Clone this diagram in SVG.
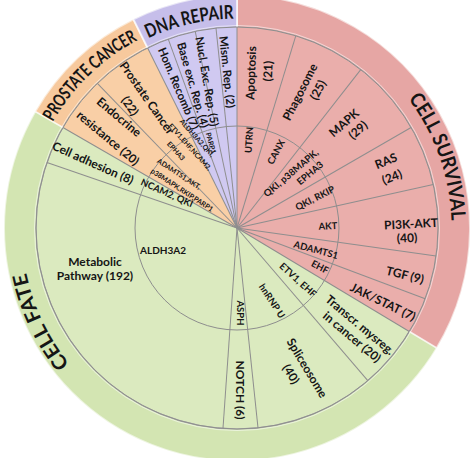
<svg xmlns="http://www.w3.org/2000/svg" width="472" height="458" viewBox="0 0 472 458">
<style>
text{font-family:Lato,"Liberation Sans",sans-serif;font-weight:700;fill:#151515;text-anchor:middle}
.pw{font-size:12px}
.dn{font-size:11.5px}
.gn{font-size:9.5px}
.sm{font-size:7px}
.band{font-size:20px}
.ln{stroke:#8e8e8e;stroke-width:1;fill:none}
.hl{stroke:#ffffff;stroke-opacity:.55;stroke-width:1;fill:none}
.bandsec{stroke:#ffffff;stroke-opacity:.6;stroke-width:2}
</style>
<defs>
<path id="arcSurv" d="M312.12,27.08 A214.5,214.5 0 0 1 421.82,336.87"/>
<path id="arcFate" d="M183.04,436.64 A215.5,215.5 0 0 1 40.89,138.63"/>
<path id="arcPros" d="M25.02,242.82 A212.5,212.5 0 0 1 259.21,16.66"/>
<path id="arcDna" d="M50.38,132.9 A209.5,209.5 0 0 1 363.08,60.81"/>
</defs>
<rect width="472" height="458" fill="#ffffff"/>
<g id="bands">
<circle cx="237" cy="228" r="233" fill="#d3e5b2" class="bandsec"/>
<path d="M237,228 L237,-5 A233,233 0 0 1 436.72,348 Z" fill="#e6a6a4" class="bandsec"/>
<path d="M237,228 L35.22,111.5 A233,233 0 0 1 133.4,19.3 Z" fill="#f7c99d" class="bandsec"/>
<path d="M237,228 L133.4,19.3 A233,233 0 0 1 237,-5 Z" fill="#c6beea" class="bandsec"/>
</g>
<g id="rings">
<circle cx="237" cy="228" r="201" fill="#dbeabf" stroke="#a8a8a8" stroke-width="1.2"/>
<path d="M237,228 L237,27 A201,201 0 0 1 409.29,331.52 Z" fill="#eaaeab"/>
<path d="M237,228 L62.93,127.5 A201,201 0 0 1 147.63,47.96 Z" fill="#f9cfa6"/>
<path d="M237,228 L147.63,47.96 A201,201 0 0 1 237,27 Z" fill="#d0c9f1"/>
<circle cx="237" cy="228" r="202.5" class="hl"/>
<circle cx="237" cy="228" r="201" class="ln"/>
<circle cx="237" cy="228" r="102" class="ln"/>
</g>
<g id="connectors" transform="translate(237 228)">
<g class="hl">
<line x1="0" y1="-201" x2="0" y2="-233" transform="rotate(0)"/>
<line x1="0" y1="-201" x2="0" y2="-233" transform="rotate(121)"/>
<line x1="0" y1="-201" x2="0" y2="-233" transform="rotate(300)"/>
<line x1="0" y1="-201" x2="0" y2="-233" transform="rotate(333.6)"/>
</g>
<g class="ln">
<line x2="0" y2="-201" transform="rotate(0)"/>
<line x2="0" y2="-201" transform="rotate(17)"/>
<line x2="0" y2="-201" transform="rotate(38)"/>
<line x2="0" y2="-201" transform="rotate(60)"/>
<line x2="0" y2="-201" transform="rotate(77.5)"/>
<line x2="0" y2="-201" transform="rotate(98)"/>
<line x2="0" y2="-201" transform="rotate(110.6)"/>
<line x2="0" y2="-201" transform="rotate(121)"/>
<line x2="0" y2="-201" transform="rotate(139.4)"/>
<line x2="0" y2="-201" transform="rotate(174)"/>
<line x2="0" y2="-201" transform="rotate(184)"/>
<line x2="0" y2="-201" transform="rotate(289)"/>
<line x2="0" y2="-201" transform="rotate(300)"/>
<line x2="0" y2="-201" transform="rotate(316)"/>
<line x2="0" y2="-201" transform="rotate(333.6)"/>
<line x2="0" y2="-201" transform="rotate(340)"/>
<line x2="0" y2="-201" transform="rotate(348)"/>
<line x2="0" y2="-201" transform="rotate(354)"/>
</g>
</g>
<g id="cat-cell-survival"><text class="band"><textPath href="#arcSurv" startOffset="50%" textLength="131" lengthAdjust="spacingAndGlyphs">CELL SURVIVAL</textPath></text></g>
<g id="cat-cell-fate"><text class="band"><textPath href="#arcFate" startOffset="50%" textLength="102" lengthAdjust="spacingAndGlyphs">CELL FATE</textPath></text></g>
<g id="cat-prostate-cancer"><text class="band" style="font-size:18px"><textPath href="#arcPros" startOffset="50%" textLength="119" lengthAdjust="spacingAndGlyphs">PROSTATE CANCER</textPath></text></g>
<g id="cat-dna-repair"><text class="band" style="font-size:19px"><textPath href="#arcDna" startOffset="50%" textLength="88" lengthAdjust="spacingAndGlyphs">DNA REPAIR</textPath></text></g>
<g id="pw-apoptosis"><text class="pw" dy=".35em" transform="translate(251 73) rotate(-88)">Apoptosis</text><text class="pw" dy=".35em" transform="translate(268 71) rotate(-88)">(21)</text></g>
<g id="pw-phagosome"><text class="pw" dy=".35em" transform="translate(300 92) rotate(-63)">Phagosome</text><text class="pw" dy=".35em" transform="translate(318 90) rotate(-63)">(25)</text></g>
<g id="pw-mapk"><text class="pw" dy=".35em" transform="translate(344 123) rotate(-41)">MAPK</text><text class="pw" dy=".35em" transform="translate(358 130) rotate(-41)">(29)</text></g>
<g id="pw-ras"><text class="pw" dy=".35em" transform="translate(386 161) rotate(-22)">RAS</text><text class="pw" dy=".35em" transform="translate(392 177) rotate(-22)">(24)</text></g>
<g id="pw-pi3k"><text class="pw" dy=".35em" transform="translate(411 224) rotate(-3)">PI3K-AKT</text><text class="pw" dy=".35em" transform="translate(407 238) rotate(-3)">(40)</text></g>
<g id="pw-tgf"><text class="pw" dy=".35em" transform="translate(405 275) rotate(14)">TGF (9)</text></g>
<g id="pw-jakstat"><text class="pw" dy=".35em" transform="translate(383 302) rotate(26)">JAK/STAT (7)</text></g>
<g id="pw-transcr"><text class="pw" dy=".35em" transform="translate(360 325) rotate(40)">Transcr. mysreg.</text><text class="pw" dy=".35em" transform="translate(352 337) rotate(40)">in cancer (20)</text></g>
<g id="pw-spliceosome"><text class="pw" dy=".35em" transform="translate(307 368) rotate(59)">Spliceosome</text><text class="pw" dy=".35em" transform="translate(291 374) rotate(59)">(40)</text></g>
<g id="pw-notch"><text class="pw" dy=".35em" transform="translate(240 390) rotate(90)">NOTCH (6)</text></g>
<g id="pw-metabolic"><text class="pw" dy=".35em" x="95" y="262">Metabolic</text><text class="pw" dy=".35em" x="95" y="276">Pathway (192)</text></g>
<g id="pw-celladhesion"><text class="pw" dy=".35em" transform="translate(93 163) rotate(24)">Cell adhesion (8)</text></g>
<g id="pw-endocrine"><text class="pw" dy=".35em" transform="translate(119 117) rotate(40)">Endocrine</text><text class="pw" dy=".35em" transform="translate(108 138) rotate(40)">resistance (20)</text></g>
<g id="pw-prostate"><text class="pw" dy=".35em" transform="translate(147 98) rotate(55)">Prostate Cancer</text><text class="pw" dy=".35em" transform="translate(130 106) rotate(55)">(22)</text></g>
<g id="pw-homrecomb"><text class="dn" dy=".35em" transform="translate(178.5 88.5) rotate(67)">Hom. Recomb (7)</text></g>
<g id="pw-baseexc"><text class="dn" dy=".35em" transform="translate(193 85) rotate(74)">Base exc. Rep. (4)</text></g>
<g id="pw-nuclexc"><text class="dn" dy=".35em" transform="translate(207 81.5) rotate(80)">Nucl. Exc. Rep. (5)</text></g>
<g id="pw-mism"><text class="dn" dy=".35em" transform="translate(227 72) rotate(84)">Mism. Rep. (2)</text></g>
<g id="gn-utrn"><text class="gn" dy=".35em" transform="translate(249 140) rotate(-86)">UTRN</text></g>
<g id="gn-canx"><text class="gn" dy=".35em" transform="translate(276 152) rotate(-62)">CANX</text></g>
<g id="gn-qki-p38"><text class="gn" dy=".35em" transform="translate(291 173) rotate(-40)">QKI, p38MAPK,</text><text class="gn" dy=".35em" transform="translate(310 173) rotate(-40)">EPHA3</text></g>
<g id="gn-qki-rkip"><text class="gn" dy=".35em" transform="translate(315 198) rotate(-27)">QKI, RKIP</text></g>
<g id="gn-akt"><text class="gn" dy=".35em" transform="translate(328 226) rotate(-3)">AKT</text></g>
<g id="gn-adamts1"><text class="gn" dy=".35em" transform="translate(316 250) rotate(15)">ADAMTS1</text></g>
<g id="gn-ehf"><text class="gn" dy=".35em" transform="translate(320 267) rotate(27)">EHF</text></g>
<g id="gn-etv1"><text class="gn" dy=".35em" transform="translate(298 280) rotate(42)">ETV1, EHF</text></g>
<g id="gn-hnrnpu"><text class="gn" dy=".35em" transform="translate(272 301) rotate(57)">hnRNP U</text></g>
<g id="gn-asph"><text class="gn" dy=".35em" transform="translate(240 313) rotate(90)">ASPH</text></g>
<g id="gn-aldh3a2"><text class="gn" dy=".35em" x="163" y="250" style="font-size:10px">ALDH3A2</text></g>
<g id="gn-ncam2"><text class="gn" dy=".35em" transform="translate(167 193) rotate(24)">NCAM2, QKI</text></g>
<g id="gn-adamts1-akt"><text class="sm" dy=".35em" transform="translate(179 174) rotate(33)">ADAMTS1,AKT,</text><text class="sm" dy=".35em" transform="translate(182 190) rotate(33)">p38MAPK,RKIP,PARP1</text></g>
<g id="gn-aldh-qki"><text class="sm" dy=".35em" transform="translate(197 138) rotate(48)">ALDH3A2,QKI,</text><text class="sm" dy=".35em" transform="translate(190 147) rotate(48)">ETV1,EHF,NCAM2,</text><text class="sm" dy=".35em" transform="translate(176 151) rotate(48)">EPHA3</text></g>
<g id="gn-parp1"><text class="sm" dy=".35em" transform="translate(211 143) rotate(75)">PARP1</text></g>
</svg>
